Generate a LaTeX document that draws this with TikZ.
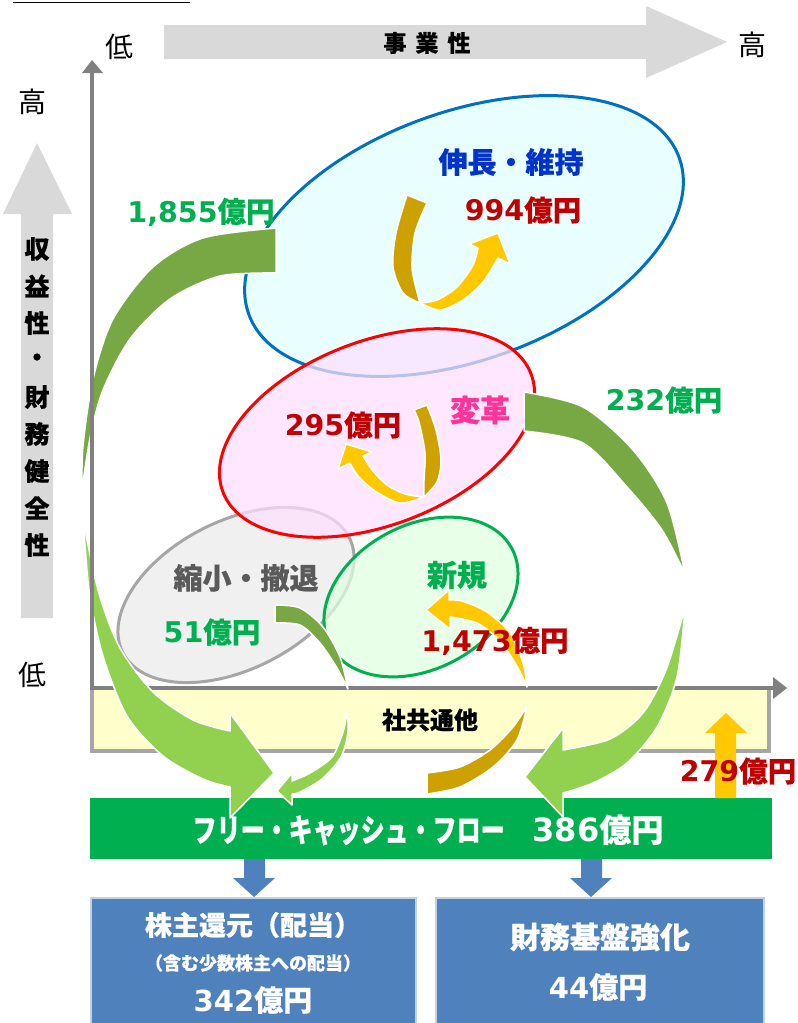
\documentclass[tikz,border=0pt]{standalone}
\usepackage{fontspec}
\newfontfamily\jp{Noto Sans CJK JP}[BoldFeatures={FakeBold=0.5}]
\newfontfamily\jpc{Noto Sans CJK JP}[FakeStretch=0.75,BoldFeatures={FakeBold=0.5}]
\newfontfamily\dv{DejaVu Sans}
\newcommand{\fs}[1]{\fontsize{#1}{#1}\selectfont}
\newcommand{\oku}[1]{{\dv\bfseries #1}{\jp\bfseries 億円}}
\definecolor{lgray}{HTML}{D9D9D9}
\definecolor{axgray}{HTML}{808080}
\definecolor{boxgray}{HTML}{A6A6A6}
\definecolor{lyellow}{HTML}{FFFFCC}
\definecolor{bluefill}{HTML}{E1FFFF}
\definecolor{blueline}{HTML}{0070C0}
\definecolor{redfill}{HTML}{FFE0FF}
\definecolor{redline}{HTML}{FF0000}
\definecolor{grayfill}{HTML}{EBEBEB}
\definecolor{grayline}{HTML}{A6A6A6}
\definecolor{greenfill}{HTML}{E0FFE0}
\definecolor{greenline}{HTML}{00B050}
\definecolor{fcfgreen}{HTML}{00B050}
\definecolor{txtgreen}{HTML}{00B050}
\definecolor{dkred}{HTML}{C00000}
\definecolor{txtblue}{HTML}{0033CC}
\definecolor{txtpink}{HTML}{FF3399}
\definecolor{txtgray}{HTML}{5A5A5A}
\definecolor{dkgreen}{HTML}{77A843}
\definecolor{ltgreen}{HTML}{92D050}
\definecolor{dkgold}{HTML}{CCA100}
\definecolor{gold}{HTML}{FFC800}
\definecolor{boxblue}{HTML}{4F81BD}
\definecolor{boxedge}{HTML}{C3D1E6}
\begin{document}
\begin{tikzpicture}[x=1pt,y=-1pt,
  lbl/.style={inner sep=0pt},
  amt/.style={lbl,font=\fs{28.5}},
  ttl/.style={lbl,font=\jp\bfseries\fs{29}},
  ax/.style={lbl,font=\jp\fs{28}},
  blk/.style={draw=white,line width=1.5pt,line join=round},
  ell/.style={line width=3pt,fill opacity=0.72,draw opacity=1}]
\useasboundingbox (0,0) rectangle (798,1023);
\fill[white] (0,0) rectangle (798,1023);
% top rule
\draw[line width=1.8pt] (13,2.5) -- (190,2.5);
% top gray arrow
\fill[lgray] (164,25) -- (646,25) -- (646,6) -- (727,42) -- (646,78) -- (646,59) -- (164,59) -- cycle;
\node[lbl,font=\jp\bfseries\fs{23}] (jigyo) at (427,43) {事\hspace{9pt}業\hspace{9pt}性};
\node[ax] (lowtop) at (119,47) {低};
\node[ax] (hightop) at (752,45) {高};
\node[ax] (highleft) at (33,102) {高};
\node[ax] (lowleft) at (33,675) {低};
% left gray arrow
\fill[lgray] (21,618) -- (21,214) -- (3,214) -- (37,143) -- (72,214) -- (53,214) -- (53,618) -- cycle;
\foreach \c [count=\i from 0] in {収,益,性,・,財,務,健,全,性}
  \node[lbl,font=\jp\bfseries\fs{25}] (v\i) at (37,{249+37*\i}) {\c};
% ellipses
\filldraw[ell,fill=bluefill,draw=blueline,rotate around={20:(464,236)}] (464,236) ellipse [x radius=229, y radius=124];
\filldraw[ell,fill=grayfill,draw=grayline,rotate around={27:(236,595)}] (236,595) ellipse [x radius=127, y radius=74];
\filldraw[ell,fill=greenfill,draw=greenline,rotate around={28:(421,597)}] (421,597) ellipse [x radius=103, y radius=72];
\filldraw[ell,fill=redfill,draw=redline,rotate around={21:(377,433)}] (377,433) ellipse [x radius=165, y radius=92];
% common box and horizontal axis
\filldraw[line width=4pt,draw=boxgray,fill=lyellow] (92,688) rectangle (769,751);
\node[lbl,font=\jp\bfseries\fs{24}] (shakyo) at (430,720) {社共通他};
\draw[axgray,line width=4pt] (90,688) -- (775,688);
\fill[axgray] (773,677) -- (787,688) -- (773,699) -- cycle;
% FCF bar
\fill[fcfgreen] (90,798) rectangle (772,859);
% big left arrow
\filldraw[fill=dkgreen,blk] plot[smooth] coordinates {(276,228) (203,238) (153,267) (113,319) (93,379) (83,446) (82,490)} -- plot[smooth] coordinates {(82,490) (90,438) (103,390) (130,339) (170,299) (220,276) (276,273)} -- cycle;
\filldraw[fill=ltgreen,blk] plot[smooth] coordinates {(83,512) (85,545) (90,597) (103,656) (127,716) (163,756) (203,779) (230,787)} -- (230,818) -- (274,773) -- (230,713) -- plot[smooth] coordinates {(230,731) (193,720) (153,692) (120,648) (100,597) (88,545) (83,512)} -- cycle;
% big right arrow
\filldraw[fill=dkgreen,blk] plot[smooth] coordinates {(524,392) (583,407) (633,450) (667,503) (685,574)} -- plot[smooth] coordinates {(685,574) (662,530) (627,487) (583,443) (524,431)} -- cycle;
\filldraw[fill=ltgreen,blk] plot[smooth] coordinates {(685,608) (677,677) (657,727) (627,763) (593,783) (563,793)} -- (563,817) -- (525,777) -- (563,728) -- plot[smooth] coordinates {(563,750) (610,739) (643,713) (666,670) (685,608)} -- cycle;
% small 51 arrow
\filldraw[fill=dkgreen,blk] plot[smooth] coordinates {(275,605) (300,608) (323,627) (340,657) (348,689)} -- plot[smooth] coordinates {(348,689) (337,668) (320,643) (300,625) (275,623)} -- cycle;
\filldraw[fill=ltgreen,blk] plot[smooth] coordinates {(347,712) (348,732) (341,757) (322,779) (300,792) (292,794)} -- (292,805) -- (277,791) -- (292,773) -- plot[smooth] coordinates {(292,781) (310,773) (332,757) (343,732) (347,712)} -- cycle;
% 1,473 arrow
\filldraw[fill=dkgold,blk] plot[smooth] coordinates {(427,794) (460,787) (493,767) (517,740) (527,706)} -- plot[smooth] coordinates {(527,706) (513,727) (490,750) (460,767) (427,773)} -- cycle;
\filldraw[fill=gold,blk] plot[smooth] coordinates {(527,687) (523,663) (510,633) (487,612) (462,601) (449,600)} -- (449,590) -- (426,610) -- (450,629) -- plot[smooth] coordinates {(450,617) (477,623) (500,641) (518,668) (527,687)} -- cycle;
% 994 arrow
\filldraw[fill=dkgold,blk] plot[smooth] coordinates {(407,195) (396,233) (393,267) (403,293) (420,303)} -- plot[smooth] coordinates {(420,303) (417,292) (412,267) (415,233) (427,203)} -- cycle;
\filldraw[fill=gold,blk] plot[smooth] coordinates {(420,303) (440,310) (463,300) (483,282) (498,258)} -- (510,264) -- (498,233) -- (469,244) -- plot[smooth] coordinates {(478,248) (473,265) (457,287) (437,300) (420,303)} -- cycle;
% 295 arrow
\filldraw[fill=dkgold,blk] plot[smooth] coordinates {(427,405) (436,430) (441,460) (437,482) (424,497)} -- plot[smooth] coordinates {(424,497) (424,480) (425,453) (419,422) (414,410)} -- cycle;
\filldraw[fill=gold,blk] plot[smooth] coordinates {(424,497) (400,503) (375,491) (358,476) (350,463)} -- (338,469) -- (346,444) -- (372,452) -- plot[smooth] coordinates {(363,456) (373,471) (387,485) (405,494) (424,497)} -- cycle;
% 279 arrow
\fill[gold] (715,798) -- (715,733) -- (705,733) -- (726,713) -- (747,733) -- (736,733) -- (736,798) -- cycle;
% vertical axis
\draw[axgray,line width=4pt] (92,690) -- (92,72);
\fill[axgray] (82,73) -- (92,60) -- (103,73) -- cycle;
% labels
\node[ttl,text=txtblue] (nobi) at (511,162) {伸長・維持};
\node[amt,text=dkred] (a994) at (523,210) {\oku{994}};
\node[amt,text=txtgreen] (a1855) at (201,212) {\oku{1,855}};
\node[amt,text=txtgreen] (a232) at (664,400) {\oku{232}};
\node[lbl,font=\jp\bfseries\fs{30},text=txtpink] (henkaku) at (480,410) {変革};
\node[amt,text=dkred] (a295) at (343,425) {\oku{295}};
\node[ttl,text=txtgray] (shuku) at (246,578) {縮小・撤退};
\node[amt,text=txtgreen] (a51) at (212,632) {\oku{51}};
\node[lbl,font=\jp\bfseries\fs{30},text=txtgreen] (shinki) at (457,575) {新規};
\node[amt,text=dkred] (a1473) at (495,641) {\oku{1,473}};
\node[amt,text=dkred] (a279) at (738,771) {\oku{279}};
% FCF text
\node[lbl,text=white,font=\fs{32}] (fcf) at (428,830) {{\jpc\bfseries フリー・キャッシュ・フロー}\hspace{28pt}{\dv\bfseries 386}{\jp\bfseries 億円}};
% blue arrows
\fill[boxblue] (244,859) -- (265,859) -- (265,878) -- (275,878) -- (254,897) -- (233,878) -- (244,878) -- cycle;
\fill[boxblue] (581,859) -- (602,859) -- (602,878) -- (612,878) -- (591,897) -- (570,878) -- (581,878) -- cycle;
% bottom boxes
\filldraw[fill=boxblue,draw=boxedge,line width=1.5pt] (91,898) rectangle (416,1030);
\filldraw[fill=boxblue,draw=boxedge,line width=1.5pt] (436,898) rectangle (764,1030);
\node[lbl,text=white,font=\jp\bfseries\fs{27}] (kabu) at (253,925) {株主還元（配当）};
\node[lbl,text=white,font=\jp\bfseries\fs{18}] (kabu2) at (253,963) {（含む少数株主への配当）};
\node[lbl,text=white,font=\fs{29}] (a342) at (253,1000) {\oku{342}};
\node[lbl,text=white,font=\jp\bfseries\fs{30}] (zaimu) at (600,937) {財務基盤強化};
\node[lbl,text=white,font=\fs{29}] (a44) at (598,987) {\oku{44}};
\end{tikzpicture}
\end{document}
